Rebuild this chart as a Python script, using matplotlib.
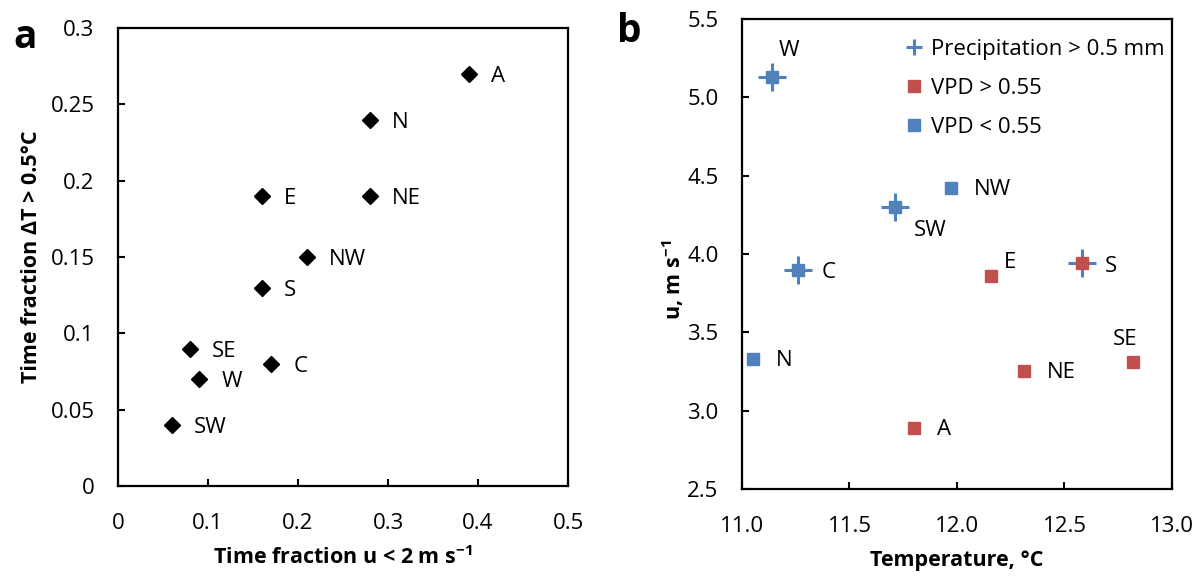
import matplotlib
matplotlib.use("Agg")
import matplotlib.pyplot as plt
import numpy as np

plt.rcParams['font.family'] = ['Open Sans', 'DejaVu Sans']
plt.rcParams['mathtext.fontset'] = 'custom'
plt.rcParams['mathtext.rm'] = 'Open Sans'
plt.rcParams['mathtext.bf'] = 'Open Sans:bold'

# panel a: wind sectors
sectors_a = ['A', 'N', 'E', 'NE', 'NW', 'S', 'SE', 'C', 'W', 'SW']
frac_calm = [0.39, 0.28, 0.16, 0.28, 0.21, 0.16, 0.08, 0.17, 0.09, 0.06]
frac_dT = [0.27, 0.24, 0.19, 0.19, 0.15, 0.13, 0.09, 0.08, 0.07, 0.04]

# panel b: temperature vs wind speed
sectors_b = ['W', 'SW', 'C', 'NW', 'E', 'S', 'N', 'NE', 'SE', 'A']
temp = [11.14, 11.71, 11.26, 11.97, 12.16, 12.58, 11.05, 12.31, 12.82, 11.80]
wind = [5.13, 4.30, 3.90, 4.42, 3.86, 3.94, 3.33, 3.25, 3.31, 2.89]
vpd_high = [False, False, False, False, True, True, False, True, True, True]
precip = [True, True, True, False, False, True, False, False, False, False]

BLUE = '#4F81BD'
RED = '#C0504D'
FS = 16
LFS = 15.5

# label offsets in points (style only)
off_b = {'W': (4.7, 19), 'SW': (14, -17), 'C': (17, -2), 'NW': (16.7, -1), 'E': (9, 10),
         'S': (16.5, -2), 'N': (16.7, -1), 'NE': (16.7, -0.5), 'SE': (-14.5, 16), 'A': (16.7, -1.5)}

fig = plt.figure(figsize=(12.03, 5.78), dpi=100)
ax1 = fig.add_axes([0.0981, 0.1592, 0.3741, 0.7924])
ax2 = fig.add_axes([0.6168, 0.154, 0.3574, 0.8131])

# ---- panel a
ax1.plot(frac_calm, frac_dT, 'D', color='black', markersize=7.8, linestyle='none')
for s, x, y in zip(sectors_a, frac_calm, frac_dT):
    ax1.annotate(s, (x, y), xytext=(16, -2), textcoords='offset points',
                 ha='left', va='center', fontsize=FS)
ax1.set_xlim(0, 0.5)
ax1.set_ylim(0, 0.3)
ax1.set_xticks([0, 0.1, 0.2, 0.3, 0.4, 0.5])
ax1.set_xticklabels(['0', '0.1', '0.2', '0.3', '0.4', '0.5'])
ax1.set_yticks([0, 0.05, 0.1, 0.15, 0.2, 0.25, 0.3])
ax1.set_yticklabels(['0', '0.05', '0.1', '0.15', '0.2', '0.25', '0.3'])
ax1.set_xlabel(r'Time fraction u < 2 m s$^{\mathbf{-1}}$', fontsize=LFS, fontweight='bold')
ax1.set_ylabel('Time fraction ΔT > 0.5°C', fontsize=LFS, fontweight='bold')
ax1.xaxis.set_label_coords(0.5, -0.131)
ax1.yaxis.set_label_coords(-0.169, 0.5)

# ---- panel b
temp = np.array(temp)
wind = np.array(wind)
vpd_high = np.array(vpd_high)
precip = np.array(precip)
ax2.plot(temp[precip], wind[precip], '+', color=BLUE, markersize=19.5, mew=2.2,
         linestyle='none', label='Precipitation > 0.5 mm')
ax2.plot(temp[vpd_high], wind[vpd_high], 's', color=RED, markersize=8.6,
         linestyle='none', label='VPD > 0.55')
ax2.plot(temp[~vpd_high], wind[~vpd_high], 's', color=BLUE, markersize=8.6,
         linestyle='none', label='VPD < 0.55')
for s, x, y in zip(sectors_b, temp, wind):
    dx, dy = off_b[s]
    ax2.annotate(s, (x, y), xytext=(dx, dy), textcoords='offset points',
                 ha='left', va='center', fontsize=FS)
ax2.set_xlim(11.0, 13.0)
ax2.set_ylim(2.5, 5.5)
ax2.set_xticks(np.arange(11.0, 13.01, 0.5))
ax2.set_xticklabels([f'{v:.1f}' for v in np.arange(11.0, 13.01, 0.5)])
ax2.set_yticks(np.arange(2.5, 5.51, 0.5))
ax2.set_yticklabels([f'{v:.1f}' for v in np.arange(2.5, 5.51, 0.5)])
ax2.set_xlabel('Temperature, °C', fontsize=LFS, fontweight='bold')
ax2.set_ylabel(r'u, m s$^{\mathbf{-1}}$', fontsize=LFS, fontweight='bold')
ax2.xaxis.set_label_coords(0.5, -0.13)
ax2.yaxis.set_label_coords(-0.13, 0.445)
leg = ax2.legend(loc='upper left', bbox_to_anchor=(0.374, 0.957), frameon=False,
                 fontsize=FS, handletextpad=0.25, handlelength=1.0,
                 labelspacing=0.8, borderaxespad=0, borderpad=0)
leg.legend_handles[0].set_markersize(12)
leg.set_clip_on(False)

for ax in (ax1, ax2):
    for sp in ax.spines.values():
        sp.set_linewidth(1.6)
    ax.tick_params(direction='in', length=5, width=1.5, labelsize=FS,
                   top=False, right=False)
    ax.tick_params(axis='x', pad=19.5)
    ax.tick_params(axis='y', pad=17)

fig.text(0.011, 0.917, 'a', fontsize=28, fontweight='bold')
fig.text(0.513, 0.927, 'b', fontsize=28, fontweight='bold')

fig.savefig('out.png', dpi=100)
